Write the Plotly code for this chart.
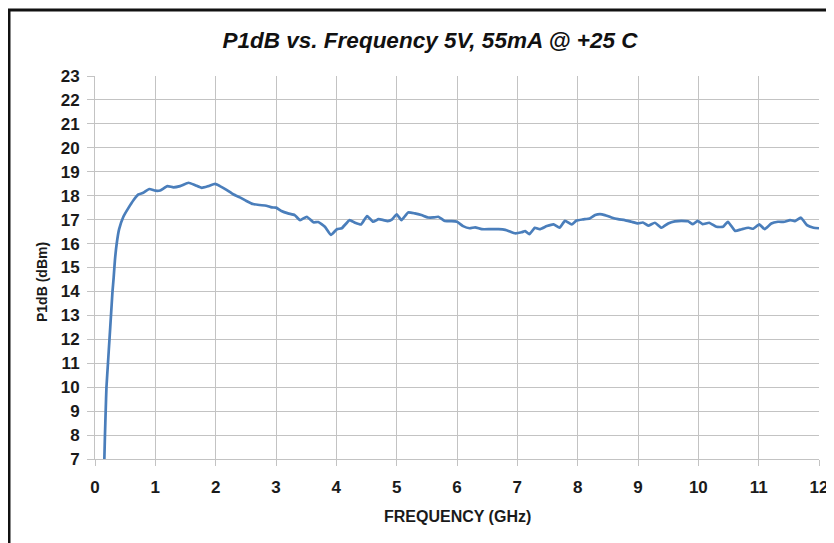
import plotly.graph_objects as go

freq_ghz = [0.155, 0.165, 0.177, 0.19, 0.215, 0.24, 0.265, 0.29, 0.31, 0.33, 0.36, 0.40, 0.47, 0.55, 0.64, 0.72, 0.80, 0.90, 1.00, 1.08,
            1.20, 1.30, 1.41, 1.55, 1.66, 1.77, 1.88, 1.99, 2.07, 2.18, 2.29, 2.40, 2.51, 2.62, 2.73, 2.84, 2.93, 3.00,
            3.09, 3.20, 3.31, 3.40, 3.51, 3.62, 3.70, 3.81, 3.91, 4.01, 4.09, 4.22, 4.31, 4.41, 4.51, 4.61, 4.70, 4.78,
            4.85, 4.92, 5.00, 5.08, 5.19, 5.30, 5.41, 5.52, 5.61, 5.69, 5.80, 5.91, 6.00, 6.10, 6.21, 6.30, 6.41, 6.55,
            6.69, 6.80, 6.88, 6.96, 7.07, 7.13, 7.20, 7.29, 7.37, 7.49, 7.60, 7.70, 7.79, 7.90, 7.98, 8.09, 8.20, 8.29,
            8.37, 8.45, 8.56, 8.67, 8.78, 8.89, 9.00, 9.08, 9.17, 9.28, 9.39, 9.50, 9.61, 9.72, 9.83, 9.91, 9.99, 10.07,
            10.18, 10.30, 10.41, 10.49, 10.61, 10.72, 10.83, 10.91, 11.01, 11.10, 11.21, 11.32, 11.43, 11.52, 11.60,
            11.70, 11.80, 11.91, 12.00]

p1db_dbm = [7.0, 8.0, 9.0, 10.0, 11.0, 12.0, 13.0, 14.0, 14.6, 15.3, 16.0, 16.6, 17.12, 17.47, 17.82, 18.05, 18.12, 18.28, 18.21, 18.22,
            18.40, 18.35, 18.40, 18.54, 18.44, 18.33, 18.40, 18.49, 18.40, 18.24, 18.06, 17.93, 17.78, 17.65, 17.61, 17.58, 17.51, 17.50,
            17.36, 17.26, 17.19, 16.98, 17.12, 16.89, 16.90, 16.70, 16.36, 16.60, 16.64, 16.98, 16.87, 16.80, 17.15, 16.91, 17.02, 16.98,
            16.94, 17.00, 17.22, 16.98, 17.30, 17.26, 17.19, 17.09, 17.09, 17.12, 16.94, 16.94, 16.91, 16.73, 16.64, 16.68, 16.60, 16.60,
            16.60, 16.57, 16.50, 16.43, 16.47, 16.52, 16.39, 16.66, 16.60, 16.73, 16.80, 16.66, 16.95, 16.80, 16.96, 17.01, 17.05, 17.19,
            17.23, 17.19, 17.09, 17.02, 16.98, 16.91, 16.84, 16.88, 16.75, 16.87, 16.66, 16.84, 16.93, 16.95, 16.93, 16.81, 16.95, 16.81,
            16.87, 16.70, 16.70, 16.91, 16.53, 16.60, 16.66, 16.62, 16.80, 16.60, 16.84, 16.91, 16.91, 16.98, 16.94,
            17.08, 16.77, 16.66, 16.64]

x_ticks = list(range(0, 13))
y_ticks = list(range(7, 24))

title_text = "P1dB vs. Frequency 5V, 55mA @ +25 C"
x_title = "FREQUENCY (GHz)"
y_title = "P1dB (dBm)"

# the page body has an 8px margin, so the figure is drawn 8px in from the window corner
OFF = 8
W, H = 834 - OFF, 543 - OFF
ML, MT = 95 - OFF, 76 - OFF
MR = W - (819 - OFF)
MB = H - (459 - OFF)
PW, PH = W - ML - MR, H - MT - MB

def px(xp):  # window pixel -> paper x
    return (xp - OFF - ML) / PW

def py(yp):  # window pixel -> paper y
    return (H - MB - (yp - OFF)) / PH

FONT = "Liberation Sans, Arial, sans-serif"
GRID = "#c3c3c3"

fig = go.Figure()
fig.add_trace(go.Scatter(
    x=freq_ghz, y=p1db_dbm, mode="lines",
    line=dict(color="#4a7ebb", width=2.7, shape="spline", smoothing=0.4),
    hoverinfo="x+y", showlegend=False,
))

fig.update_layout(
    width=W, height=H,
    margin=dict(l=ML, r=MR, t=MT, b=MB, autoexpand=False),
    paper_bgcolor="white", plot_bgcolor="white",
    font=dict(family=FONT, color="#1a1a1a"),
    title=dict(text="<b><i>" + title_text + "</i></b>", x=(430 - OFF) / W, xref="container",
               xanchor="center", y=1 - (40 - OFF) / H, yref="container", yanchor="middle",
               font=dict(family=FONT, size=22.5, color="#111111")),
    xaxis=dict(range=[0, 12], tickvals=x_ticks, ticktext=["<b>%d</b>" % v for v in x_ticks],
               showgrid=True, gridcolor=GRID, gridwidth=1, zeroline=False,
               showline=True, linecolor=GRID, linewidth=1, mirror=False, automargin=False,
               ticks="outside", ticklen=6, tickcolor=GRID, ticklabelstandoff=7,
               tickfont=dict(family=FONT, size=17, color="#1a1a1a"), fixedrange=True),
    yaxis=dict(range=[7, 23], tickvals=y_ticks, ticktext=["<b>%d</b>" % v for v in y_ticks],
               showgrid=True, gridcolor=GRID, gridwidth=1, zeroline=False,
               showline=True, linecolor=GRID, linewidth=1, automargin=False,
               ticks="outside", ticklen=7, tickcolor=GRID, ticklabelstandoff=4,
               tickfont=dict(family=FONT, size=17, color="#1a1a1a"), fixedrange=True),
    annotations=[
        dict(text="<b>" + x_title + "</b>", xref="paper", yref="paper", x=px(457), y=py(516),
             xanchor="center", yanchor="middle", showarrow=False,
             font=dict(family=FONT, size=16, color="#1a1a1a")),
        dict(text="<b>" + y_title + "</b>", xref="paper", yref="paper", x=px(42), y=py(282),
             xanchor="center", yanchor="middle", textangle=-90, showarrow=False,
             font=dict(family=FONT, size=14, color="#1a1a1a")),
    ],
    shapes=[
        dict(type="path", xref="paper", yref="paper",
             path="M %f %f L %f %f L %f %f" % (px(9), py(560), px(9), py(10), px(850), py(10)),
             line=dict(color="#111111", width=3)),
    ],
)

fig.write_html("out.html")
